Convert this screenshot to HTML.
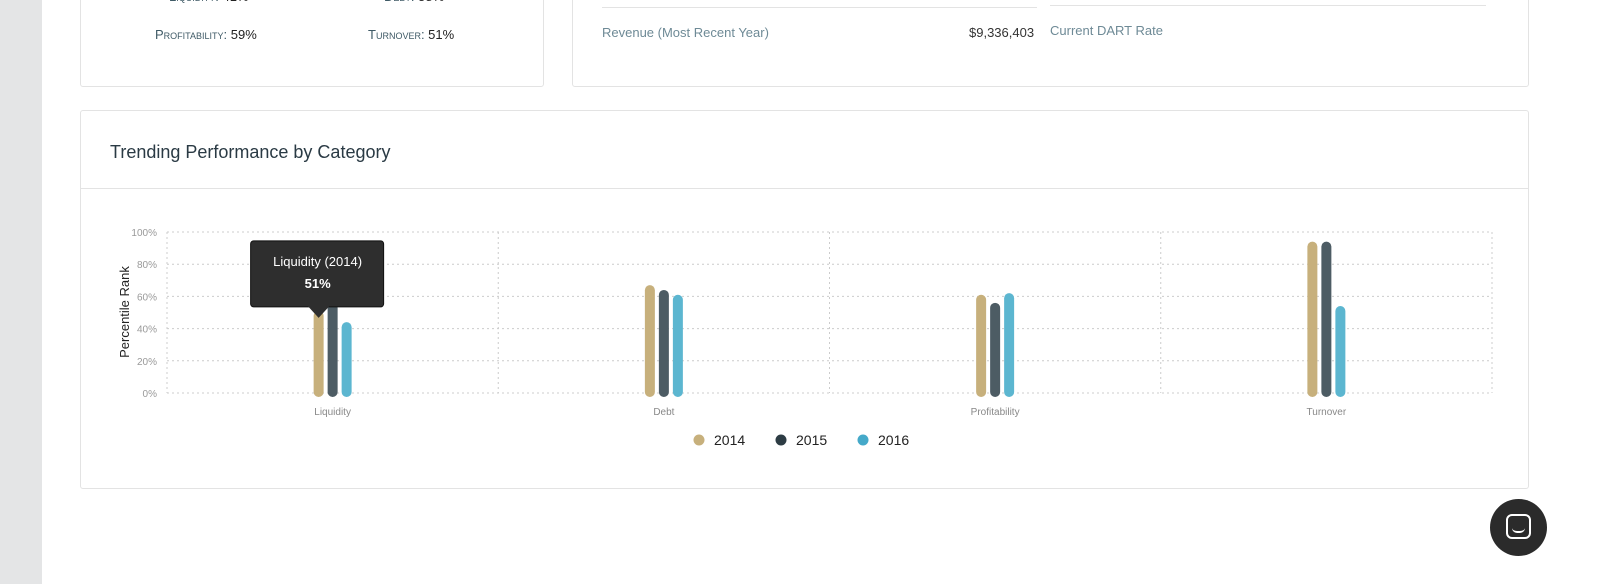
<!DOCTYPE html>
<html><head><meta charset="utf-8"><style>
body{margin:0;width:1600px;height:584px;background:#fff;font-family:"Liberation Sans",sans-serif;position:relative;overflow:hidden}
.abs{position:absolute}
.card{position:absolute;background:#fff;border:1px solid #e3e3e3;border-radius:3px;box-sizing:border-box}
.sc{font-variant:small-caps;color:#3f5a66;font-size:13px}
</style></head><body>
<div class="abs" style="left:0;top:0;width:42px;height:584px;background:#e4e5e6"></div>
<div class="card" style="left:80px;top:-10px;width:464px;height:97px">
 <div class="abs sc" style="left:88px;top:-2px">Liquidity: <span style="color:#222">41%</span></div>
 <div class="abs sc" style="left:303px;top:-2px">Debt: <span style="color:#222">58%</span></div>
 <div class="abs sc" style="left:74px;top:36px">Profitability: <span style="color:#222">59%</span></div>
 <div class="abs sc" style="left:287px;top:36px">Turnover: <span style="color:#222">51%</span></div>
</div>
<div class="card" style="left:572px;top:-10px;width:957px;height:97px">
 <div class="abs" style="left:29px;top:16px;width:435px;border-top:1px solid #e3e3e3"></div>
 <div class="abs" style="left:477px;top:14px;width:436px;border-top:1px solid #e3e3e3"></div>
 <div class="abs" style="left:29px;top:34px;font-size:13px;color:#6e8a96">Revenue (Most Recent Year)</div>
 <div class="abs" style="left:396px;top:34px;font-size:13px;color:#333">$9,336,403</div>
 <div class="abs" style="left:477px;top:32px;font-size:13px;color:#6e8a96">Current DART Rate</div>
</div>
<div class="card" style="left:80px;top:110px;width:1449px;height:379px">
 <div class="abs" style="left:29px;top:31px;font-size:18px;color:#2a3a44">Trending Performance by Category</div>
 <div class="abs" style="left:0;top:77px;width:100%;border-top:1px solid #e3e3e3"></div>
</div>
<svg class="abs" style="left:0;top:0" width="1600" height="584" id="chart"></svg>
<div class="abs" style="left:1490px;top:499px;width:57px;height:57px;border-radius:50%;background:#2b2b2b">
 <div class="abs" style="left:16px;top:15px;width:25px;height:25px;border:2.5px solid #fff;border-radius:6px;box-sizing:border-box"></div>
 <div class="abs" style="left:22px;top:29px;width:13px;height:5px;border-bottom:2px solid #fff;border-radius:0 0 8px 8px;box-sizing:border-box"></div>
</div>
<script>
const categories=["Liquidity","Debt","Profitability","Turnover"];
const years=["2014","2015","2016"];
const colors=["#c7b07c","#4d5c64","#5cb6d0"];
const legendColors=["#c7b07c","#2d3c44","#45a9c9"];
const v2014=[51,67,61,94];
const v2015=[56,64,56,94];
const v2016=[44,61,62,54];
const yTicks=[0,20,40,60,80,100];
const series=[v2014,v2015,v2016];
const NS="http://www.w3.org/2000/svg";
const svg=document.getElementById('chart');
const X0=167,X1=1492,Y0=393,Y1=232;
const bandW=(X1-X0)/categories.length;
const yS=v=>Y0-(v/100)*(Y0-Y1);
const xC=i=>X0+bandW*(i+0.5);
function mk(t,a){const e=document.createElementNS(NS,t);for(const k in a)e.setAttribute(k,a[k]);svg.appendChild(e);return e;}
yTicks.forEach(t=>{
 const l=mk('line',{x1:X0,x2:X1,y1:yS(t),y2:yS(t),stroke:'#ccc','stroke-dasharray':'2,3'});
 
 
 const tx=mk('text',{x:157,y:yS(t)+4,'text-anchor':'end','font-size':10,fill:'#999','font-family':'Liberation Sans'});
 tx.textContent=t+'%';
 
 
});
for(let i=0;i<=categories.length;i++){
 const l=mk('line',{x1:X0+bandW*i,x2:X0+bandW*i,y1:Y1,y2:Y0,stroke:'#ccc','stroke-dasharray':'2,3'});
 
 
}
const yt=mk('text',{x:0,y:0,transform:'translate(129,312) rotate(-90)','text-anchor':'middle','font-size':13,fill:'#222','font-family':'Liberation Sans'});
yt.textContent='Percentile Rank';


categories.forEach((c,i)=>{
 const tx=mk('text',{x:xC(i),y:415,'text-anchor':'middle','font-size':10,fill:'#888','font-family':'Liberation Sans'});
 tx.textContent=c;
 
 
 series.forEach((s,j)=>{
  const x=xC(i)+(j-1)*14;
  const b=mk('line',{x1:x,x2:x,y1:yS(s[i])+5,y2:Y0-1,stroke:colors[j],'stroke-width':10,'stroke-linecap':'round'});
  
  
 });
});
// legend
years.forEach((y,j)=>{
 const x=699+j*82;
 const d=mk('circle',{cx:x,cy:440,r:5.5,fill:legendColors[j]});
 
 
 const t=mk('text',{x:x+15,y:445,'font-size':14,fill:'#222','font-family':'Liberation Sans'});
 t.textContent=y;
 
 
});
// tooltip
const tipX=xC(0)-14, tipY=yS(v2014[0]);
const g=document.createElementNS(NS,'g');svg.appendChild(g);


const r=document.createElementNS(NS,'rect');
[['x',tipX-68],['y',tipY-70],['width',133],['height',66],['rx',3],['fill','#2e2e2e'],['stroke','#111']].forEach(a=>r.setAttribute(a[0],a[1]));g.appendChild(r);
const p=document.createElementNS(NS,'path');
p.setAttribute('d',`M${tipX-11} ${tipY-5} L${tipX} ${tipY+7} L${tipX+11} ${tipY-5} Z`);p.setAttribute('fill','#2e2e2e');g.appendChild(p);
const t1=document.createElementNS(NS,'text');
[['x',tipX-1],['y',tipY-45],['text-anchor','middle'],['font-size',13],['fill','#fff'],['font-family','Liberation Sans']].forEach(a=>t1.setAttribute(a[0],a[1]));
t1.textContent=categories[0]+' ('+years[0]+')';g.appendChild(t1);
const t2=document.createElementNS(NS,'text');
[['x',tipX-1],['y',tipY-23],['text-anchor','middle'],['font-size',13],['font-weight','bold'],['fill','#fff'],['font-family','Liberation Sans']].forEach(a=>t2.setAttribute(a[0],a[1]));
t2.textContent=v2014[0]+'%';g.appendChild(t2);
</script>
</body></html>
